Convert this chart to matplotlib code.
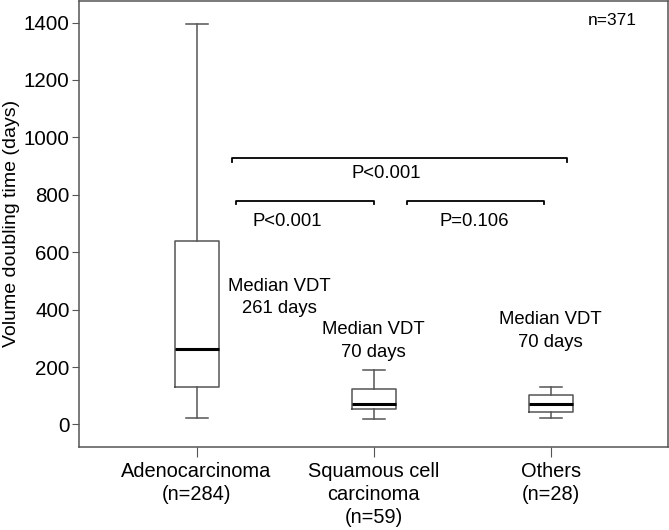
import matplotlib.pyplot as plt

plt.rcParams['font.family'] = ['Liberation Sans', 'DejaVu Sans']

# box statistics (days)
groups = ['Adenocarcinoma\n(n=284)', 'Squamous cell\ncarcinoma\n(n=59)', 'Others\n(n=28)']
whislo = [23, 18, 21]
q1 = [130, 53, 43]
med = [261, 70, 70]
q3 = [640, 125, 104]
whishi = [1395, 189, 129]
median_notes = ['Median VDT\n261 days', 'Median VDT\n70 days', 'Median VDT\n70 days']

# significance brackets: (x start, x end, height, label)
bracket_x0 = [1.2, 1.22, 2.19]
bracket_x1 = [3.09, 2.0, 2.96]
bracket_y = [927, 779, 779]
bracket_labels = ['P<0.001', 'P<0.001', 'P=0.106']

gray = '#555555'
fs = 13.3

fig = plt.figure(figsize=(6.69, 5.30), dpi=100)
ax = fig.add_axes([0.1185, 0.157, 0.880, 0.841])

stats = []
for i in range(len(groups)):
    stats.append({'whislo': whislo[i], 'q1': q1[i], 'med': med[i],
                  'q3': q3[i], 'whishi': whishi[i], 'fliers': []})

ax.bxp(stats, positions=[1, 2, 3], widths=0.25, showfliers=False,
       boxprops=dict(color=gray, linewidth=1.1),
       whiskerprops=dict(color=gray, linewidth=1.1),
       capprops=dict(color=gray, linewidth=1.1),
       medianprops=dict(color='black', linewidth=2.2))

# median labels
ax.text(1.468, 442, median_notes[0], ha='center', va='center', fontsize=fs, linespacing=1.45)
ax.text(2.0, 290, median_notes[1], ha='center', va='center', fontsize=fs, linespacing=1.45)
ax.text(3.0, 324, median_notes[2], ha='center', va='center', fontsize=fs, linespacing=1.45)

# brackets
for x0, x1, y in zip(bracket_x0, bracket_x1, bracket_y):
    ax.plot([x0, x0, x1, x1], [y - 12, y, y, y - 12], color='black', linewidth=1.3)
ax.text(2.07, 874, bracket_labels[0], ha='center', va='center', fontsize=fs)
ax.text(1.51, 706, bracket_labels[1], ha='center', va='center', fontsize=fs)
ax.text(2.57, 706, bracket_labels[2], ha='center', va='center', fontsize=fs)

ax.text(3.35, 1408, 'n=371', ha='center', va='center', fontsize=12.5)

ax.set_xlim(0.337, 3.663)
ax.set_ylim(-78, 1475)
ax.set_xticks([1, 2, 3])
ax.set_xticklabels(groups, fontsize=14.4, linespacing=1.25)
ax.set_yticks(range(0, 1401, 200))
ax.tick_params(axis='y', labelsize=14.8, length=5, color=gray, pad=2)
ax.tick_params(axis='x', length=7, color=gray, pad=4)
ax.set_ylabel('Volume doubling time (days)', fontsize=14, labelpad=3)

for s in ax.spines.values():
    s.set_color(gray)
    s.set_linewidth(1.1)

fig.savefig('out.png', dpi=100)
